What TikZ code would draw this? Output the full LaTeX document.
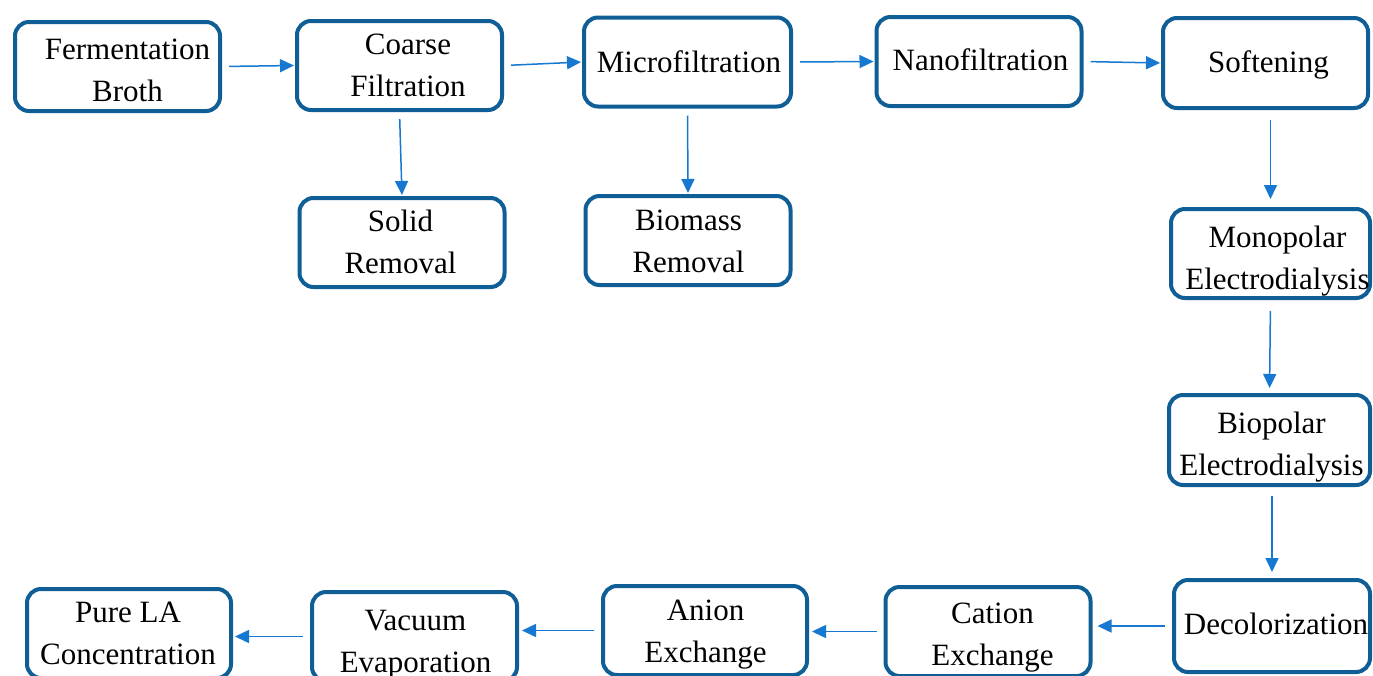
\documentclass[tikz,border=0pt]{standalone}
\usepackage{fontspec}
\newfontfamily\boxfont{Liberation Serif}
\usetikzlibrary{arrows.meta}
\definecolor{boxblue}{RGB}{16,94,150}
\definecolor{arrblue}{RGB}{22,120,208}
\newcommand{\tbox}[3]{\hspace*{#1}\raisebox{#2}[\height][\depth]{\begin{tabular}{@{}c@{}}#3\end{tabular}}}
\begin{document}
\begin{tikzpicture}[x=1pt,y=-1pt,
  box/.style={draw=boxblue, line width=4pt, rounded corners=14pt, align=center,
    minimum width=205pt, minimum height=89pt, inner sep=0pt,
    font=\boxfont\fontsize{31}{42}\selectfont, text=black},
  arr/.style={draw=arrblue, line width=1.5pt, -{Triangle[length=14pt,width=13pt]},
    shorten <=7pt, shorten >=1pt}]
\useasboundingbox (0,0) rectangle (1373,675);
\clip (0,0) rectangle (1373,675);
\fill[white] (0,0) rectangle (1373,675);
% top row
\node[box] (fb) at (117.5,66.5) {\tbox{20pt}{-6pt}{Fermentation\\Broth}};
\node[box] (cf) at (399.5,65.5) {\tbox{17pt}{-2pt}{Coarse\\Filtration}};
\node[box, minimum width=207pt] (mf) at (687.5,62) {\tbox{3pt}{-2pt}{Microfiltration}};
\node[box] (nf) at (979,61.5) {\tbox{3pt}{-1pt}{Nanofiltration}};
\node[box, minimum height=90pt] (soft) at (1265.5,63) {\tbox{6pt}{-1pt}{Softening}};
% second row
\node[box] (solid) at (402,242.5) {\tbox{-3pt}{-2pt}{Solid\\Removal}};
\node[box] (biomass) at (688,240.5) {\tbox{1pt}{-3pt}{Biomass\\Removal}};
% right column
\node[box, minimum width=199pt] (mono) at (1270.5,253.5) {\tbox{14pt}{-7pt}{Monopolar\\Electrodialysis}};
\node[box, minimum width=201pt, minimum height=90pt] (bip) at (1269.5,440) {\tbox{4pt}{-6pt}{Biopolar\\Electrodialysis}};
\node[box, minimum width=196pt, minimum height=92pt] (decol) at (1272,626) {\tbox{8pt}{0pt}{Decolorization}};
% bottom row
\node[box] (cation) at (988,631.5) {\tbox{9pt}{-5pt}{Cation\\Exchange}};
\node[box, minimum width=204pt] (anion) at (705,630.5) {\tbox{1pt}{-3pt}{Anion\\Exchange}};
\node[box] (vacuum) at (414.5,636.5) {\tbox{2pt}{-7pt}{Vacuum\\Evaporation}};
\node[box, minimum width=204pt] (pure) at (129,633.5) {\tbox{-2pt}{-2pt}{Pure LA\\Concentration}};
% arrows
\draw[arr] (fb.east) -- (cf.west);
\draw[arr] (cf.east) -- (mf.west);
\draw[arr] (mf.east) -- (nf.west);
\draw[arr] (nf.east) -- (soft.west);
\draw[arr] (cf.south) -- (solid.north);
\draw[arr] (mf.south) -- (biomass.north);
\draw[arr, shorten <=10pt, shorten >=8pt] (soft.south -| mono.north) -- (mono.north);
\draw[arr, shorten <=11pt, shorten >=5pt] (mono.south) -- (bip.north);
\draw[arr, shorten <=9pt, shorten >=6pt] (bip.south -| decol.north) -- (decol.north);
\draw[arr, shorten >=5pt] (decol.west) -- (cation.east |- decol.west);
\draw[arr, shorten >=3pt] (cation.west) -- (anion.east |- cation.west);
\draw[arr, shorten >=3pt] (anion.west) -- (vacuum.east |- anion.west);
\draw[arr, shorten >=2pt] (vacuum.west) -- (pure.east |- vacuum.west);
\end{tikzpicture}
\end{document}
